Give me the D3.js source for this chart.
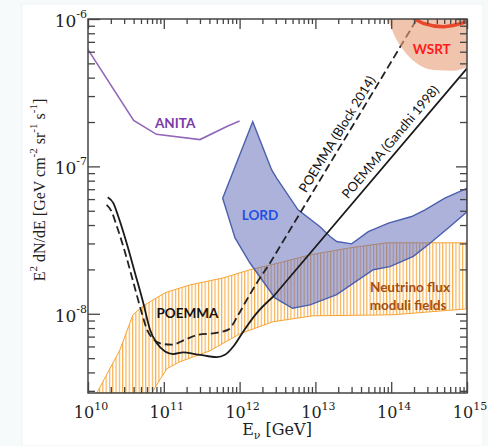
<!DOCTYPE html>
<html>
<head>
<meta charset="utf-8">
<script src="https://cdn.jsdelivr.net/npm/d3@7"></script>
<style>
  html, body { margin: 0; padding: 0; background: #fff; }
  svg { display: block; }
</style>
</head>
<body>
<svg id="chart" width="488" height="446"></svg>
<script>
// ---- Axis ranges and tick labels ----
const energyDomain = [1e10, 1e15];          // GeV
const fluxDomain = [2.9e-9, 1e-6];          // GeV cm^-2 sr^-1 s^-1
const xMajorTicks = [1e10, 1e11, 1e12, 1e13, 1e14, 1e15];
const xTickExponents = ["10", "11", "12", "13", "14", "15"];
const yMajorTicks = [1e-6, 1e-7, 1e-8];
const yTickExponents = ["-6", "-7", "-8"];

// ---- ANITA limit [E, E^2 dN/dE] ----
const anita = [[1e10, 6.2e-7], [4e10, 2.05e-7], [8e10, 1.65e-7], [3e11, 1.52e-7], [7e11, 1.88e-7], [1e12, 2.03e-7]];

// ---- LORD sensitivity region (closed outline) ----
const lord = [
  [1.49e12, 2.01e-7], [5.98e11, 6.08e-8], [8.7e11, 3.27e-8], [1.37e12, 2.21e-8], [2.93e12, 1.28e-8],
  [4.99e12, 1.09e-8], [8.5e12, 1.15e-8], [1.91e13, 1.35e-8], [5.8e13, 1.99e-8], [9.6e13, 2.09e-8],
  [1.96e14, 2.45e-8], [3.25e14, 3.01e-8], [5.97e14, 3.91e-8], [1e15, 4.92e-8],
  [1e15, 7.11e-8], [5.1e14, 6.08e-8], [2.8e14, 5.07e-8], [1.86e14, 4.57e-8], [9.2e13, 4.12e-8],
  [4.99e13, 3.61e-8], [3.01e13, 2.98e-8], [1.91e13, 3.09e-8], [1.56e13, 3.34e-8], [1.15e13, 3.89e-8],
  [5.9e12, 5.07e-8], [3.08e12, 8.32e-8], [2.65e12, 9.46e-8]
];

// ---- Neutrino flux band from moduli fields ----
const bandUpper = [
  [1.31e10, 2.9e-9], [2.64e10, 5.7e-9], [3.92e10, 9.84e-9], [5.32e10, 1.13e-8], [1.04e11, 1.39e-8],
  [2.22e11, 1.57e-8], [6.04e11, 1.75e-8], [1.37e12, 1.99e-8], [3.41e12, 2.22e-8], [8.49e12, 2.51e-8],
  [2.86e13, 2.8e-8], [8.8e13, 3.03e-8], [1e15, 3.03e-8]
];
const bandLower = [
  [6.92e10, 2.9e-9], [8.91e10, 3.57e-9], [1.1e11, 4.24e-9], [1.64e11, 4.73e-9], [4.07e11, 5.61e-9],
  [1.01e12, 7.31e-9], [2.76e12, 8.83e-9], [9.3e12, 9.69e-9], [1.06e14, 9.84e-9], [1e15, 1.08e-8]
];

// ---- POEMMA sensitivity, Gandhi 1998 cross section (last point: end of the straight high-energy rise) ----
const poemmaGandhi = [
  [1.82e10, 6.18e-8], [2.16e10, 5.63e-8], [2.51e10, 4.57e-8], [3.24e10, 3.01e-8], [4.17e10, 1.89e-8],
  [5.37e10, 1.18e-8], [6.58e10, 7.8e-9], [8.06e10, 6.33e-9], [1.04e11, 5.55e-9], [1.33e11, 5.33e-9],
  [1.81e11, 5.47e-9], [2.58e11, 5.33e-9], [3.86e11, 5.15e-9], [4.99e11, 5.08e-9], [6.41e11, 5.27e-9],
  [8.26e11, 6.0e-9], [1.12e12, 7.59e-9], [1.68e12, 1.01e-8], [2.79e12, 1.31e-8],
  [1e15, 4.63e-7]
];

// ---- POEMMA sensitivity, Block 2014 cross section ----
const poemmaBlock = [
  [1.76e10, 5.48e-8], [2.03e10, 4.99e-8], [2.36e10, 4.03e-8], [3.05e10, 2.66e-8], [3.92e10, 1.67e-8],
  [5.05e10, 1.04e-8], [6.0e10, 7.8e-9], [7.2e10, 6.77e-9], [9.38e10, 6.26e-9], [1.27e11, 6.17e-9],
  [1.9e11, 6.67e-9], [2.85e11, 7.21e-9], [4.73e11, 7.4e-9], [7.1e11, 7.8e-9], [9.62e11, 9.84e-9],
  [1.24e12, 1.24e-8], [1.68e12, 1.61e-8], [2.52e12, 2.21e-8],
  [2.19e14, 1e-6]
];

// ---- WSRT excluded region edge and limit curve ----
const wsrtEdge = [
  [9.08e13, 1e-6], [1.07e14, 8.0e-7], [1.45e14, 6.16e-7], [2.17e14, 5.01e-7],
  [3.59e14, 4.51e-7], [6.59e14, 4.46e-7], [1e15, 4.73e-7]
];
const wsrtLimit = [[1.8e14, 1.05e-6], [2.65e14, 9.35e-7], [4.87e14, 8.87e-7], [1e15, 9.59e-7]];

// ---- Text labels placed in data coordinates ----
const labels = [
  { text: "ANITA", at: [1.41e11, 1.97e-7], color: "#7a3aa8" },
  { text: "LORD", at: [1.86e12, 4.69e-8], color: "#1f4fe6" },
  { text: "POEMMA", at: [2.05e11, 1.01e-8], color: "#111" },
  { text: "WSRT", at: [3.42e14, 6.23e-7], color: "#ff1a1a" },
  { text: "Neutrino flux", at: [1.77e14, 1.53e-8], color: "#a34f10" },
  { text: "moduli fields", at: [1.67e14, 1.15e-8], color: "#a34f10" }
];
const lineLabels = [
  { text: "POEMMA (Block 2014)", at: [1.91e13, 1.66e-7], angle: -58.5 },
  { text: "POEMMA (Gandhi 1998)", at: [9.64e13, 1.47e-7], angle: -50 }
];

// ---- Layout ----
const W = 488, H = 446;
const plot = { left: 88, right: 467, top: 19, bottom: 393 };

const svg = d3.select("#chart");

// page frame
svg.append("rect").attr("width", W).attr("height", H).attr("fill", "#f7fafa");
svg.append("rect").attr("x", 22).attr("y", 4).attr("width", 461).attr("height", H - 4)
  .attr("fill", "#fff").attr("stroke", "#eef3f3");

const x = d3.scaleLog().domain(energyDomain).range([plot.left, plot.right]);
const y = d3.scaleLog().domain(fluxDomain).range([plot.bottom, plot.top]);

const defs = svg.append("defs");
defs.append("clipPath").attr("id", "plotClip")
  .append("rect").attr("x", plot.left).attr("y", plot.top)
  .attr("width", plot.right - plot.left).attr("height", plot.bottom - plot.top);

// vertical hatching for the moduli-field band
const hatch = defs.append("pattern").attr("id", "vhatch")
  .attr("patternUnits", "userSpaceOnUse").attr("width", 3.3).attr("height", 10);
hatch.append("line").attr("x1", 0.6).attr("x2", 0.6).attr("y1", 0).attr("y2", 10)
  .attr("stroke", "#f7a332").attr("stroke-width", 1);

const g = svg.append("g").attr("clip-path", "url(#plotClip)");

const pt = d => [x(d[0]), y(d[1])];
const linear = d3.line().x(d => x(d[0])).y(d => y(d[1]));
const smooth = d3.line().x(d => x(d[0])).y(d => y(d[1])).curve(d3.curveMonotoneX);
// smooth low-energy part, then a straight rise to the final point
const curveThenStraight = data => {
  const end = pt(data[data.length - 1]);
  return smooth(data.slice(0, -1)) + "L" + end[0] + "," + end[1];
};

// moduli-field band
const bandPoly = bandUpper.concat(bandLower.slice().reverse());
g.append("path").attr("d", linear(bandPoly) + "Z")
  .attr("fill", "url(#vhatch)").attr("stroke", "#f7a332").attr("stroke-width", 1);

// LORD region
g.append("path").attr("d", linear(lord) + "Z")
  .attr("fill", "#5b66b8").attr("fill-opacity", 0.5)
  .attr("stroke", "#4a5fae").attr("stroke-width", 1.4);

// ANITA
g.append("path").attr("d", linear(anita))
  .attr("fill", "none").attr("stroke", "#9266bb").attr("stroke-width", 1.6);

// POEMMA curves
g.append("path").attr("d", curveThenStraight(poemmaBlock))
  .attr("fill", "none").attr("stroke", "#222").attr("stroke-width", 1.8)
  .attr("stroke-dasharray", "8,4");
g.append("path").attr("d", curveThenStraight(poemmaGandhi))
  .attr("fill", "none").attr("stroke", "#1a1a1a").attr("stroke-width", 1.8);

// WSRT region and limit
const corner = pt([1e15, 1e-6]);
g.append("path").attr("d", smooth(wsrtEdge) + "L" + corner[0] + "," + corner[1] + "Z")
  .attr("fill", "#e9a07a").attr("fill-opacity", 0.62);
g.append("path").attr("d", smooth(wsrtLimit))
  .attr("fill", "none").attr("stroke", "#e8472a").attr("stroke-width", 3.5);

// ---- Axes (ticks point inward on all four sides) ----
const decades = d3.range(10, 15);
const xMinor = [];
decades.forEach(p => { for (let k = 2; k <= 9; k++) xMinor.push(k * Math.pow(10, p)); });
const yMinor = [];
[-9, -8, -7].forEach(p => { for (let k = 2; k <= 9; k++) { const v = k * Math.pow(10, p); if (v >= fluxDomain[0] && v < 1e-6) yMinor.push(v); } });

const axisStyle = sel => {
  sel.select(".domain").remove();
  sel.selectAll(".tick line").attr("stroke", "#444").attr("stroke-width", 1.3);
  sel.selectAll(".tick text").remove();
};
const addAxis = (axisFn, scale, values, size, transform) =>
  svg.append("g").attr("transform", transform)
    .call(axisFn(scale).tickValues(values).tickSize(-size).tickFormat(() => "")).call(axisStyle);

addAxis(d3.axisBottom, x, xMajorTicks, 11, `translate(0,${plot.bottom})`);
addAxis(d3.axisBottom, x, xMinor, 6, `translate(0,${plot.bottom})`);
addAxis(d3.axisTop, x, xMajorTicks, 10, `translate(0,${plot.top})`);
addAxis(d3.axisTop, x, xMinor, 5, `translate(0,${plot.top})`);
addAxis(d3.axisLeft, y, yMajorTicks, 12, `translate(${plot.left},0)`);
addAxis(d3.axisLeft, y, yMinor, 7, `translate(${plot.left},0)`);
addAxis(d3.axisRight, y, yMajorTicks, 11, `translate(${plot.right},0)`);
addAxis(d3.axisRight, y, yMinor, 7, `translate(${plot.right},0)`);

svg.append("rect").attr("x", plot.left).attr("y", plot.top)
  .attr("width", plot.right - plot.left).attr("height", plot.bottom - plot.top)
  .attr("fill", "none").attr("stroke", "#444").attr("stroke-width", 1.5);

// tick labels
const serif = "'DejaVu Serif', 'Liberation Serif', serif";
xMajorTicks.forEach((v, i) => {
  const t = svg.append("text").attr("x", x(v) + 3).attr("y", plot.bottom + 25)
    .attr("text-anchor", "middle").attr("font-family", serif).attr("font-size", 16).attr("fill", "#222");
  t.append("tspan").text("10");
  t.append("tspan").attr("font-size", 11).attr("dy", -8).text(xTickExponents[i]);
});
yMajorTicks.forEach((v, i) => {
  const t = svg.append("text").attr("x", plot.left - 1).attr("y", y(v) + 8)
    .attr("text-anchor", "end").attr("font-family", serif).attr("font-size", 17).attr("fill", "#222");
  t.append("tspan").text("10");
  t.append("tspan").attr("font-size", 11).attr("dy", -9).text(yTickExponents[i]);
});

// axis titles
const xt = svg.append("text").attr("x", 277).attr("y", 435).attr("text-anchor", "middle")
  .attr("font-family", serif).attr("font-size", 16).attr("fill", "#222");
xt.append("tspan").text("E");
xt.append("tspan").attr("font-size", 11).attr("dy", 4).text("ν");
xt.append("tspan").attr("dy", -4).text(" [GeV]");

const yt = svg.append("text").attr("transform", "translate(45,190) rotate(-90)")
  .attr("text-anchor", "middle").attr("font-family", "'Liberation Serif', serif")
  .attr("font-size", 16).attr("fill", "#222");
yt.append("tspan").text("E");
yt.append("tspan").attr("font-size", 11).attr("dy", -8).text("2");
yt.append("tspan").attr("dy", 8).text(" dN/dE [GeV cm");
yt.append("tspan").attr("font-size", 11).attr("dy", -8).text("-2");
yt.append("tspan").attr("dy", 8).text(" sr");
yt.append("tspan").attr("font-size", 11).attr("dy", -8).text("-1");
yt.append("tspan").attr("dy", 8).text(" s");
yt.append("tspan").attr("font-size", 11).attr("dy", -8).text("-1");
yt.append("tspan").attr("dy", 8).text("]");

// region labels
const sans = "Lato, 'Open Sans', sans-serif";
labels.forEach(l => {
  svg.append("text").attr("x", x(l.at[0])).attr("y", y(l.at[1]))
    .attr("text-anchor", "middle").attr("dominant-baseline", "central")
    .attr("font-family", sans).attr("font-weight", "bold").attr("font-size", 13.5)
    .attr("fill", l.color).text(l.text);
});
lineLabels.forEach(l => {
  svg.append("text").attr("transform", `translate(${x(l.at[0])},${y(l.at[1])}) rotate(${l.angle})`)
    .attr("text-anchor", "middle").attr("dominant-baseline", "central")
    .attr("font-family", sans).attr("font-size", 13).attr("fill", "#111").text(l.text);
});
</script>
</body>
</html>
